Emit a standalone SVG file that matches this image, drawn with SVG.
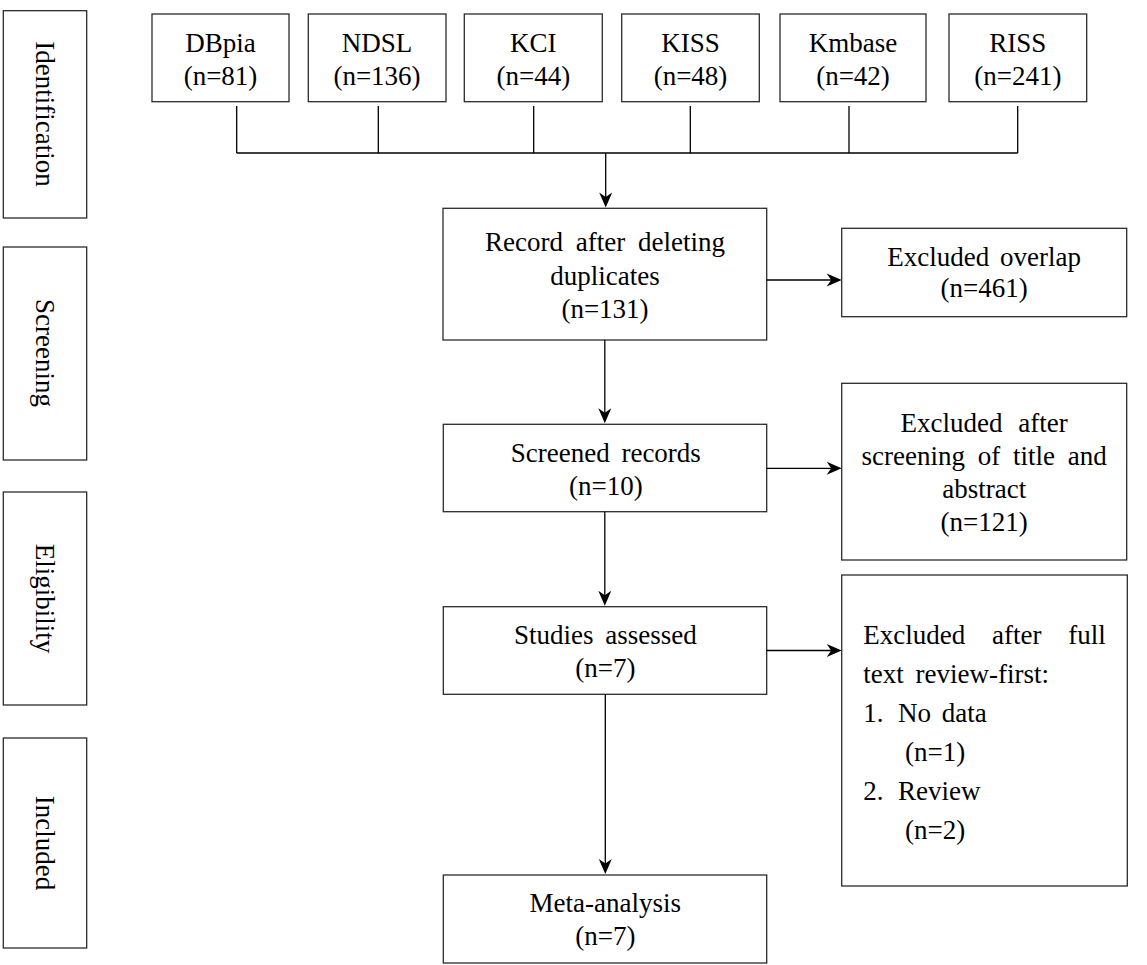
<svg xmlns="http://www.w3.org/2000/svg" width="1147" height="965" viewBox="0 0 1147 965">
<style>
  .box { fill: #ffffff; stroke: #2b2b2b; stroke-width: 1.3; }
  .t { font-family: "Liberation Serif", "Times New Roman", serif; font-size: 27px; fill: #000000; }
  .c { text-anchor: middle; }
  .conn { fill: none; stroke: #000000; stroke-width: 1.3; }
</style>
<defs>
  <marker id="arr" viewBox="-16 -8 17 16" refX="-3" refY="0" markerWidth="17" markerHeight="16" markerUnits="userSpaceOnUse" orient="auto">
    <path d="M0,0 L-15,-6.5 L-10.5,0 L-15,6.5 Z" fill="#000000"/>
  </marker>
</defs>
<rect width="1147" height="965" fill="#ffffff"/>

<!-- stage labels -->
<g id="stage-identification">
  <rect class="box" x="3.3" y="10.7" width="83.4" height="207.3"/>
  <text class="t c" transform="translate(45,114) rotate(90)" y="9">Identification</text>
</g>
<g id="stage-screening">
  <rect class="box" x="3.3" y="247" width="83.4" height="213"/>
  <text class="t c" transform="translate(45,353) rotate(90)" y="9">Screening</text>
</g>
<g id="stage-eligibility">
  <rect class="box" x="3.3" y="492" width="83.4" height="213"/>
  <text class="t c" transform="translate(45,598.5) rotate(90)" y="9">Eligibility</text>
</g>
<g id="stage-included">
  <rect class="box" x="3.3" y="738" width="83.4" height="210"/>
  <text class="t c" transform="translate(45,843) rotate(90)" y="9">Included</text>
</g>

<!-- databases -->
<g id="db-dbpia">
  <rect class="box" x="152" y="14" width="137" height="87.7"/>
  <text class="t c" x="220.5" y="52">DBpia</text>
  <text class="t c" x="220.5" y="85">(n=81)</text>
</g>
<g id="db-ndsl">
  <rect class="box" x="308.3" y="14" width="137.7" height="87.7"/>
  <text class="t c" x="377" y="52">NDSL</text>
  <text class="t c" x="377" y="85">(n=136)</text>
</g>
<g id="db-kci">
  <rect class="box" x="464.3" y="14" width="138" height="87.7"/>
  <text class="t c" x="533.3" y="52">KCI</text>
  <text class="t c" x="533.3" y="85">(n=44)</text>
</g>
<g id="db-kiss">
  <rect class="box" x="621.7" y="14" width="137.6" height="87.7"/>
  <text class="t c" x="690.5" y="52">KISS</text>
  <text class="t c" x="690.5" y="85">(n=48)</text>
</g>
<g id="db-kmbase">
  <rect class="box" x="780" y="14" width="146" height="87.7"/>
  <text class="t c" x="853" y="52">Kmbase</text>
  <text class="t c" x="853" y="85">(n=42)</text>
</g>
<g id="db-riss">
  <rect class="box" x="949" y="14" width="137.7" height="87.7"/>
  <text class="t c" x="1017.8" y="52">RISS</text>
  <text class="t c" x="1017.8" y="85">(n=241)</text>
</g>

<!-- main flow -->
<g id="record">
  <rect class="box" x="443" y="208.3" width="323.7" height="131.7"/>
  <text class="t c" x="605" y="251" word-spacing="6">Record after deleting</text>
  <text class="t c" x="605" y="284.5">duplicates</text>
  <text class="t c" x="605" y="318">(n=131)</text>
</g>
<g id="screened">
  <rect class="box" x="443.3" y="424.3" width="323.4" height="87.4"/>
  <text class="t c" x="605.8" y="461.7" word-spacing="5">Screened records</text>
  <text class="t c" x="605.8" y="495">(n=10)</text>
</g>
<g id="studies">
  <rect class="box" x="443.3" y="606.7" width="323.4" height="87.6"/>
  <text class="t c" x="605.3" y="644" word-spacing="5">Studies assessed</text>
  <text class="t c" x="605.3" y="677">(n=7)</text>
</g>
<g id="meta">
  <rect class="box" x="443.3" y="875" width="323.4" height="88"/>
  <text class="t c" x="605.3" y="911.7">Meta-analysis</text>
  <text class="t c" x="605.3" y="945">(n=7)</text>
</g>

<!-- exclusions -->
<g id="excl-overlap">
  <rect class="box" x="841.7" y="228.3" width="285" height="88.4"/>
  <text class="t c" x="984.2" y="265.7" word-spacing="4">Excluded overlap</text>
  <text class="t c" x="984.2" y="297">(n=461)</text>
</g>
<g id="excl-screening">
  <rect class="box" x="841.7" y="383.3" width="285" height="176.7"/>
  <text class="t c" x="984.2" y="432" word-spacing="9">Excluded after</text>
  <text class="t c" x="984.2" y="465" word-spacing="6">screening of title and</text>
  <text class="t c" x="984.2" y="498">abstract</text>
  <text class="t c" x="984.2" y="531">(n=121)</text>
</g>
<g id="excl-fulltext">
  <rect class="box" x="841.7" y="575" width="285.6" height="311"/>
  <text class="t" x="863.3" y="644" word-spacing="20">Excluded after full</text>
  <text class="t" x="863.3" y="683" word-spacing="5">text review-first:</text>
  <text class="t" x="863.3" y="722">1.</text>
  <text class="t" x="898" y="722" word-spacing="4">No data</text>
  <text class="t" x="905" y="761">(n=1)</text>
  <text class="t" x="863.3" y="800">2.</text>
  <text class="t" x="898" y="800">Review</text>
  <text class="t" x="905" y="839">(n=2)</text>
</g>

<!-- connectors -->
<g id="connectors">
  <path class="conn" d="M236.7,106 V153 M378.3,106 V153 M533.7,106 V153 M690.3,106 V153 M849,106 V153 M1017.7,106 V153 M236.7,153 H1017.7"/>
  <path class="conn" d="M605.7,153 V204.5" marker-end="url(#arr)"/>
  <path class="conn" d="M604.8,340 V420.3" marker-end="url(#arr)"/>
  <path class="conn" d="M604.8,511.7 V602.7" marker-end="url(#arr)"/>
  <path class="conn" d="M605.3,694.3 V871" marker-end="url(#arr)"/>
  <path class="conn" d="M766.7,280 H838.7" marker-end="url(#arr)"/>
  <path class="conn" d="M766.7,468.3 H838.7" marker-end="url(#arr)"/>
  <path class="conn" d="M766.7,650.5 H838.7" marker-end="url(#arr)"/>
</g>
</svg>
